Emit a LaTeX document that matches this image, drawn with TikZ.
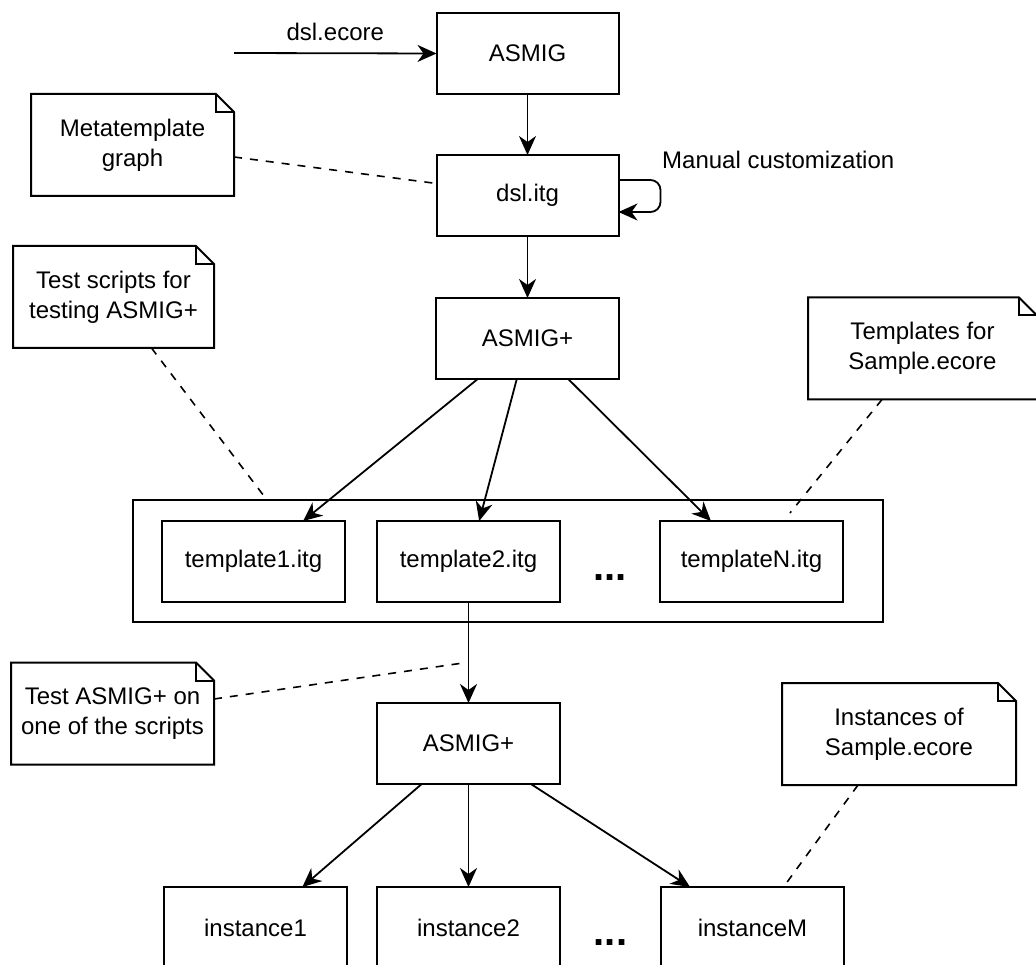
\documentclass[tikz,border=0pt]{standalone}
\usepackage{fontspec}
\setmainfont{Liberation Sans}
\usepackage{tikz}
\usetikzlibrary{arrows.meta,positioning,fit,calc}
\tikzset{
    caixa/.style={
        rectangle,
        draw,
        line width=2pt,
        outer sep=0pt,
        align=center,
        minimum width=183pt,
        minimum height=81pt
    },
    nota/.style={
        rectangle,
        align=center,
        inner sep=0pt,
        outer sep=0pt,
        minimum height=102pt
    },
    borda/.style={line width=2pt},
    grupo/.style={draw, line width=2pt, inner sep=0pt, outer sep=0pt},
    fluxo/.style={-{Stealth[length=19pt,width=17pt,inset=6pt]}, line width=1.8pt},
    ligacao/.style={line width=1.6pt, dash pattern=on 8pt off 8pt},
    rotulo/.style={inner sep=0pt},
    reticencias/.style={inner sep=0pt, font=\fontsize{40}{48}\selectfont\bfseries}
}

\begin{document}
\begin{tikzpicture}[x=1pt, y=-1pt, font=\fontsize{24}{30}\selectfont]
        \useasboundingbox (0,0) rectangle (1036,965);

        % cadeia principal
        \node[caixa, minimum width=182pt] (asmig) at (527.5,53.5) {ASMIG};
        \node[caixa, minimum width=182pt, below=61pt of asmig] (dslitg) {dsl.itg};
        \node[caixa, below=62pt of dslitg] (asmigmais) {ASMIG+};

        \node[caixa, below=142pt of asmigmais, xshift=-59pt] (template2) {template2.itg};
        \node[caixa, left=32pt of template2] (template1) {template1.itg};
        \node[caixa, right=100pt of template2] (templateN) {templateN.itg};
        \node[grupo, fit={($(template1.north west)+(-29,-21)$) ($(templateN.south east)+(40,20)$)}] (modelosgrupo) {};
        \node[reticencias] (pontos1) at ([yshift=-16pt]$(template2.east)!0.5!(templateN.west)$) {...};

        \node[caixa, below=101pt of template2] (asmig2) {ASMIG+};
        \node[caixa, below=103pt of asmig2] (instance2) {instance2};
        \node[caixa, left=30pt of instance2] (instance1) {instance1};
        \node[caixa, right=101pt of instance2] (instanceM) {instanceM};
        \node[reticencias] (pontos2) at ([yshift=-15.5pt]$(instance2.east)!0.5!(instanceM.west)$) {...};

        % notas
        \node[nota, minimum width=203pt] (meta) at (132.5,145) {Metatemplate\\graph};
        \node[nota, minimum width=201pt] (testes) at (113.5,297) {Test scripts for\\testing ASMIG+};
        \node[nota, minimum width=229pt] (modelos) at (922.5,348.5) {Templates for\\Sample.ecore};
        \node[nota, minimum width=203pt] (testeasmig) at (112.5,713.5) {Test ASMIG+ on\\one of the scripts};
        \node[nota, minimum width=234pt] (instancias) at (899,734) {Instances of\\Sample.ecore};
        \foreach \n in {meta,testes,modelos,testeasmig,instancias} {
            \draw[borda] (\n.north west) -- ([xshift=-18pt]\n.north east)
                -- ([yshift=-18pt]\n.north east) -- (\n.south east) -- (\n.south west) -- cycle;
            \draw[borda] ([xshift=-18pt]\n.north east) |- ([yshift=-18pt]\n.north east);
        }

        \node[rotulo, anchor=west] (manual) at (662,160) {Manual customization};

        \coordinate (origemEcore) at (234,53);
        \coordinate (fimModelos) at (790,513);
        \coordinate (fimTeste) at (463,663);

        % setas
        \draw[fluxo] (origemEcore) -- (asmig.west)
            node[rotulo, midway, above=12pt] (ecore) {dsl.ecore};
        \draw[fluxo] (asmig) -- (dslitg);
        \draw[fluxo, rounded corners=10pt] ([yshift=15.5pt]dslitg.east) -- ++(42,0)
            -- ++(0,32) -- ([yshift=-16.5pt]dslitg.east);
        \draw[fluxo] (dslitg) -- (asmigmais);
        \draw[fluxo] (asmigmais) -- (template1);
        \draw[fluxo] (asmigmais) -- (template2);
        \draw[fluxo] (asmigmais) -- (templateN);
        \draw[fluxo] (template2) -- (asmig2);
        \draw[fluxo] (asmig2) -- (instance1);
        \draw[fluxo] (asmig2) -- (instance2);
        \draw[fluxo] (asmig2) -- (instanceM);

        % ligacoes tracejadas
        \draw[ligacao] ([yshift=-12pt]meta.east) -- ([yshift=12pt]dslitg.west);
        \draw[ligacao] ([xshift=38pt]testes.south) -- ([xshift=-241pt]modelosgrupo.north);
        \draw[ligacao] ([xshift=-40.5pt]modelos.south) -- (fimModelos);
        \draw[ligacao] ([yshift=14.5pt]testeasmig.east) -- (fimTeste);
        \draw[ligacao] ([xshift=-41pt]instancias.south) -- ([xshift=31pt]instanceM.north);
    \end{tikzpicture}
\end{document}
